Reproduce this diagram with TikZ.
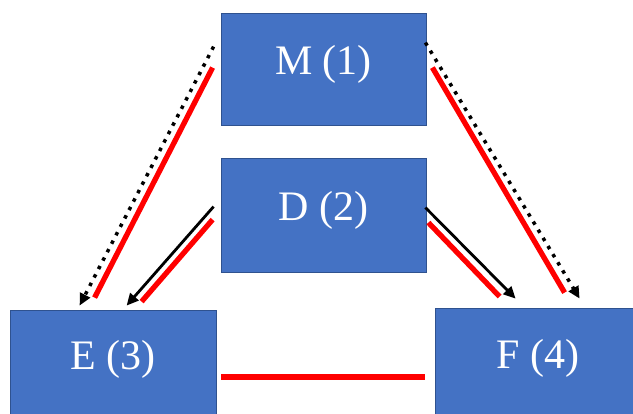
\documentclass[tikz,border=0pt]{standalone}
\usepackage{fontspec}
\setmainfont{Liberation Serif}
\usetikzlibrary{arrows.meta,calc}
\definecolor{boxblue}{HTML}{4472C4}
\definecolor{boxedge}{HTML}{2F528F}
\definecolor{linkred}{HTML}{FF0000}
\tikzset{
  varbox/.style={rectangle, fill=boxblue, draw=boxedge, line width=0.8pt,
    text=white, font=\fontsize{42}{44}\selectfont, inner sep=0pt,
    minimum width=205pt, text height=29pt},
  redlink/.style={draw=linkred, line width=5.3pt},
  solidarrow/.style={draw=black, line width=2.8pt,
    -{Triangle[length=12pt,width=11pt]}},
  dotarrow/.style={draw=black, line width=3.5pt, dash pattern=on 3.5pt off 6pt,
    -{Triangle[length=12pt,width=11pt]}}
}
\begin{document}
\begin{tikzpicture}[x=1pt,y=-1pt]
\useasboundingbox (0,0) rectangle (633,414);
% variable boxes
\node[varbox, minimum height=112pt, text depth=17pt] (M) at (323.5,69) {M (1)};
\node[varbox, minimum height=114pt, text depth=17pt] (D) at (323.5,215) {D (2)};
\node[varbox, minimum width=206pt, minimum height=124pt, text depth=33pt] (E) at (113,372) {E (3)};
\node[varbox, minimum width=206pt, minimum height=126pt, text depth=33pt] (F) at (538,371) {F (4)};
% M -> E
\draw[dotarrow] ($(M.north west)+(-7,34)$) -- ($(E.north west)+(70,-4)$);
\draw[redlink] ($(M.north west)+(-8,55)$) -- ($(E.north west)+(85,-12)$);
% D -> E
\draw[solidarrow] ($(D.north west)+(-7,49)$) -- ($(E.north west)+(117,-4)$);
\draw[redlink] ($(D.north west)+(-8,62)$) -- ($(E.north west)+(132,-8)$);
% M -> F
\draw[dotarrow] ($(M.north east)+(-1,30)$) -- ($(F.north west)+(145,-9)$);
\draw[redlink] ($(M.north east)+(6,55)$) -- ($(F.north west)+(130,-15)$);
% D -> F
\draw[solidarrow] ($(D.north east)+(-1,50)$) -- ($(F.north west)+(81,-9)$);
\draw[redlink] ($(D.north east)+(2,65)$) -- ($(F.north west)+(65,-11)$);
% E -- F
\draw[redlink] ($(E.east)+(5,5)$) -- ($(F.west)+(-10,6)$);
\end{tikzpicture}
\end{document}
